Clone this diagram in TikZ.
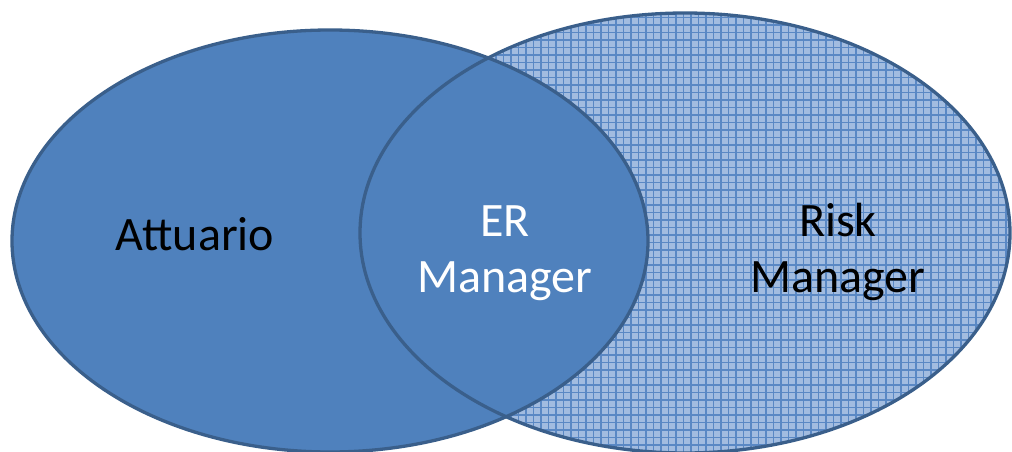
\documentclass[tikz,border=0pt]{standalone}
\usepackage{fontspec}
\setmainfont{Carlito}
\definecolor{fillblue}{HTML}{4F81BD}
\definecolor{edgeblue}{HTML}{3A5F8B}
\definecolor{lightbg}{HTML}{A2BCE0}
\definecolor{gridblue}{HTML}{5A88C4}
\tikzset{
  lbl/.style={font=\fontsize{48}{56}\selectfont, align=center, inner sep=0pt},
  rim/.style={draw=edgeblue, line width=3.3pt},
  gridline/.style={draw=gridblue, line width=1.4pt}
}
\begin{document}
\begin{tikzpicture}[x=1pt,y=-1pt]
\useasboundingbox (0,0) rectangle (1012,452);
% right ellipse with grid pattern
\begin{scope}
  \clip (685,233) ellipse [x radius=325pt, y radius=220pt];
  \fill[lightbg] (355,0) rectangle (1012,455);
  \foreach \x in {361,368.5,...,1012} \draw[gridline] (\x,0) -- (\x,455);
  \foreach \y in {10,17.5,...,455} \draw[gridline] (355,\y) -- (1012,\y);
\end{scope}
% left ellipse
\fill[fillblue] (330,241) ellipse [x radius=318pt, y radius=211pt];
% borders
\draw[rim] (685,233) ellipse [x radius=325pt, y radius=220pt];
\draw[rim] (330,241) ellipse [x radius=318pt, y radius=211pt];
% labels
\node[lbl, text=black, anchor=base] (att) at (195,250) {Attuario};
\node[lbl, text=white, anchor=base] (er1) at (505,236) {ER};
\node[lbl, text=white, anchor=base] (er2) at (505,292) {Manager};
\node[lbl, text=black, anchor=base] (rm1) at (838,236) {Risk};
\node[lbl, text=black, anchor=base] (rm2) at (838,292) {Manager};
\end{tikzpicture}
\end{document}
